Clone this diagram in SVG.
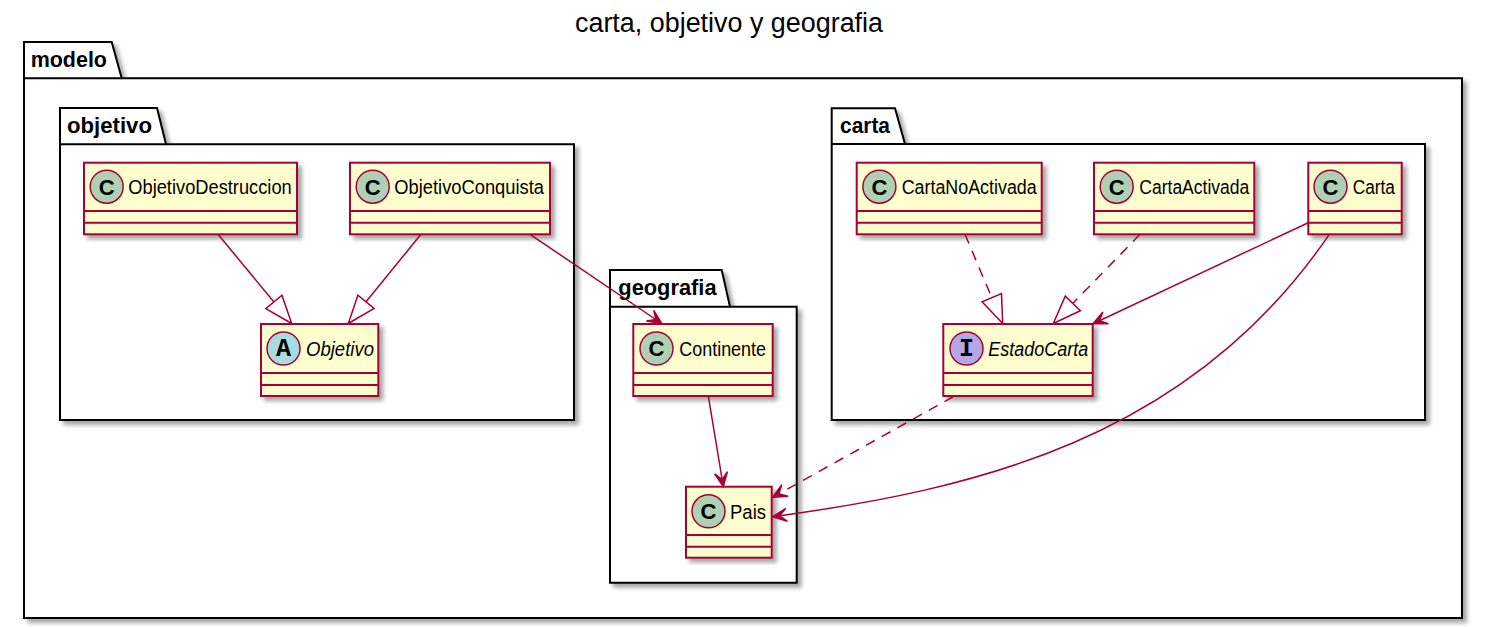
<svg xmlns="http://www.w3.org/2000/svg" width="1485" height="627" viewBox="0 0 1485 627">
<style>
.pkg{fill:#ffffff;stroke:#000000;stroke-width:2;filter:url(#sh)}
.pkgline{fill:none;stroke:#000000;stroke-width:2}
.pkgt{font-family:"Liberation Sans",Arial,sans-serif;font-weight:bold;font-size:21.5px;fill:#000000}
.box{fill:#FEFECE;stroke:#A80036;stroke-width:2;filter:url(#sh)}
.sep{stroke:#A80036;stroke-width:2}
.circ{stroke:#A80036;stroke-width:1.5}
.cC{fill:#ADD1B2}
.cA{fill:#A9DCDF}
.cI{fill:#B4A7E5}
.lt{font-family:"Liberation Sans",Arial,sans-serif;font-weight:bold;font-size:22px;fill:#000000;text-anchor:middle}
.lm{font-family:"Liberation Mono","Courier New",monospace;font-weight:bold;font-size:25px;fill:#000000;text-anchor:middle}
.name{font-family:"Liberation Sans",Arial,sans-serif;font-size:20px;fill:#000000}
.it{font-style:italic}
.edge{fill:none;stroke:#A80036;stroke-width:1.5}
.dash{stroke-dasharray:10,8}
.title{font-family:"Liberation Sans",Arial,sans-serif;font-size:27px;fill:#000000}
</style>
<defs>
<filter id="sh" x="-5%" y="-5%" width="115%" height="115%">
<feGaussianBlur in="SourceAlpha" stdDeviation="2"/>
<feOffset dx="4" dy="4" result="o"/>
<feComponentTransfer><feFuncA type="linear" slope="0.35"/></feComponentTransfer>
<feMerge><feMergeNode/><feMergeNode in="SourceGraphic"/></feMerge>
</filter>
<marker id="arr" markerUnits="userSpaceOnUse" orient="auto" refX="0" refY="0" markerWidth="20" markerHeight="20" overflow="visible">
<path d="M0,0 L-14,-6.5 L-7,0 L-14,6.5 Z" fill="#A80036" stroke="#A80036" stroke-width="1.5" stroke-linejoin="miter"/>
</marker>
<marker id="tri" markerUnits="userSpaceOnUse" orient="auto" refX="0" refY="0" markerWidth="30" markerHeight="30" overflow="visible">
<path d="M0,0 L-28,-10.5 L-28,10.5 Z" fill="#ffffff" stroke="#A80036" stroke-width="1.5"/>
</marker>
</defs>
<rect x="0" y="0" width="1485" height="627" fill="#ffffff"/>
<text class="title" x="575" y="31.7" textLength="308" lengthAdjust="spacingAndGlyphs">carta, objetivo y geografia</text>

<g id="pkg-modelo">
<path class="pkg" d="M24,42 L111.7,42 L121.7,78.3 L1462,78.3 L1462,618 L24,618 Z"/>
<line class="pkgline" x1="24" y1="78.3" x2="121.7" y2="78.3"/>
<text class="pkgt" x="30.7" y="66.7" textLength="76.3" lengthAdjust="spacingAndGlyphs">modelo</text>
</g>
<g id="pkg-objetivo">
<path class="pkg" d="M60,108 L157,108 L166,144.3 L574,144.3 L574,420 L60,420 Z"/>
<line class="pkgline" x1="60" y1="144.3" x2="166" y2="144.3"/>
<text class="pkgt" x="67" y="133.3" textLength="85" lengthAdjust="spacingAndGlyphs">objetivo</text>
</g>
<g id="pkg-geografia">
<path class="pkg" d="M610,270 L721.7,270 L730,306.7 L796.7,306.7 L796.7,582.7 L610,582.7 Z"/>
<line class="pkgline" x1="610" y1="306.7" x2="730" y2="306.7"/>
<text class="pkgt" x="618.3" y="295.3" textLength="98.3" lengthAdjust="spacingAndGlyphs">geografia</text>
</g>
<g id="pkg-carta">
<path class="pkg" d="M831.7,108.3 L895,108.3 L905,144 L1425,144 L1425,420 L831.7,420 Z"/>
<line class="pkgline" x1="831.7" y1="144" x2="905" y2="144"/>
<text class="pkgt" x="840" y="133.3" textLength="50" lengthAdjust="spacingAndGlyphs">carta</text>
</g>

<g id="ObjetivoDestruccion">
<rect class="box" x="84" y="162.7" width="213" height="71.6"/>
<line class="sep" x1="84" y1="211" x2="297" y2="211"/>
<line class="sep" x1="84" y1="222.7" x2="297" y2="222.7"/>
<circle class="circ cC" cx="106.7" cy="186.7" r="16.5"/>
<text class="lt" x="106.7" y="194.6">C</text>
<text class="name" x="128.3" y="194.3" textLength="163.4" lengthAdjust="spacingAndGlyphs">ObjetivoDestruccion</text>
</g>
<g id="ObjetivoConquista">
<rect class="box" x="350" y="162.7" width="200" height="71.6"/>
<line class="sep" x1="350" y1="211" x2="550" y2="211"/>
<line class="sep" x1="350" y1="222.7" x2="550" y2="222.7"/>
<circle class="circ cC" cx="372.7" cy="186.7" r="16.5"/>
<text class="lt" x="372.7" y="194.6">C</text>
<text class="name" x="394.3" y="194.3" textLength="149.7" lengthAdjust="spacingAndGlyphs">ObjetivoConquista</text>
</g>
<g id="Objetivo">
<rect class="box" x="261" y="324" width="117.3" height="72"/>
<line class="sep" x1="261" y1="373" x2="378.3" y2="373"/>
<line class="sep" x1="261" y1="385" x2="378.3" y2="385"/>
<circle class="circ cA" cx="283.5" cy="348.5" r="16.5"/>
<text class="lm" x="283.5" y="356.3">A</text>
<text class="name it" x="306" y="356" textLength="68" lengthAdjust="spacingAndGlyphs">Objetivo</text>
</g>
<g id="Continente">
<rect class="box" x="633.3" y="324" width="139.4" height="72"/>
<line class="sep" x1="633.3" y1="373" x2="772.7" y2="373"/>
<line class="sep" x1="633.3" y1="385" x2="772.7" y2="385"/>
<circle class="circ cC" cx="656.5" cy="348.5" r="16.5"/>
<text class="lt" x="656.5" y="356.4">C</text>
<text class="name" x="679.3" y="356" textLength="86.7" lengthAdjust="spacingAndGlyphs">Continente</text>
</g>
<g id="Pais">
<rect class="box" x="686" y="486.7" width="85.7" height="71"/>
<line class="sep" x1="686" y1="535" x2="771.7" y2="535"/>
<line class="sep" x1="686" y1="546.7" x2="771.7" y2="546.7"/>
<circle class="circ cC" cx="708.5" cy="511.3" r="16.5"/>
<text class="lt" x="708.5" y="519.2">C</text>
<text class="name" x="730" y="518.5" textLength="36" lengthAdjust="spacingAndGlyphs">Pais</text>
</g>
<g id="CartaNoActivada">
<rect class="box" x="856.7" y="162.7" width="185" height="71.6"/>
<line class="sep" x1="856.7" y1="211" x2="1041.7" y2="211"/>
<line class="sep" x1="856.7" y1="222.7" x2="1041.7" y2="222.7"/>
<circle class="circ cC" cx="879.4" cy="186.7" r="16.5"/>
<text class="lt" x="879.4" y="194.6">C</text>
<text class="name" x="901.7" y="194.3" textLength="135" lengthAdjust="spacingAndGlyphs">CartaNoActivada</text>
</g>
<g id="CartaActivada">
<rect class="box" x="1094" y="162.7" width="160.3" height="71.6"/>
<line class="sep" x1="1094" y1="211" x2="1254.3" y2="211"/>
<line class="sep" x1="1094" y1="222.7" x2="1254.3" y2="222.7"/>
<circle class="circ cC" cx="1116.7" cy="186.7" r="16.5"/>
<text class="lt" x="1116.7" y="194.6">C</text>
<text class="name" x="1139.3" y="194.3" textLength="110" lengthAdjust="spacingAndGlyphs">CartaActivada</text>
</g>
<g id="Carta">
<rect class="box" x="1308.3" y="162.7" width="93.4" height="71.6"/>
<line class="sep" x1="1308.3" y1="211" x2="1401.7" y2="211"/>
<line class="sep" x1="1308.3" y1="222.7" x2="1401.7" y2="222.7"/>
<circle class="circ cC" cx="1330.5" cy="186.7" r="16.5"/>
<text class="lt" x="1330.5" y="194.6">C</text>
<text class="name" x="1352.7" y="194.3" textLength="42.3" lengthAdjust="spacingAndGlyphs">Carta</text>
</g>
<g id="EstadoCarta">
<rect class="box" x="943.3" y="324" width="149.4" height="72"/>
<line class="sep" x1="943.3" y1="373" x2="1092.7" y2="373"/>
<line class="sep" x1="943.3" y1="385" x2="1092.7" y2="385"/>
<circle class="circ cI" cx="966.5" cy="348.5" r="16.5"/>
<text class="lm" x="966.5" y="356.3">I</text>
<text class="name it" x="988.3" y="355.5" textLength="100" lengthAdjust="spacingAndGlyphs">EstadoCarta</text>
</g>

<g id="connectors">
<path class="edge" d="M218,234.3 L291.7,323.5" marker-end="url(#tri)"/>
<path class="edge" d="M421,234.3 L348.3,323.5" marker-end="url(#tri)"/>
<path class="edge" d="M530,234.3 L661.7,323.5" marker-end="url(#arr)"/>
<path class="edge" d="M708.3,396 L723.3,486.5" marker-end="url(#arr)"/>
<path class="edge dash" d="M965,234.3 L1002.7,323.5" marker-end="url(#tri)"/>
<path class="edge dash" d="M1140,234.3 L1053.3,323.5" marker-end="url(#tri)"/>
<path class="edge" d="M1308.3,222.7 L1093,323.8" marker-end="url(#arr)"/>
<path class="edge" d="M1329.3,234.3 C1189,441 971,490 772.7,516.7" marker-end="url(#arr)"/>
<path class="edge dash" d="M953.3,396.7 L772.7,497.3" marker-end="url(#arr)"/>
</g>
</svg>
